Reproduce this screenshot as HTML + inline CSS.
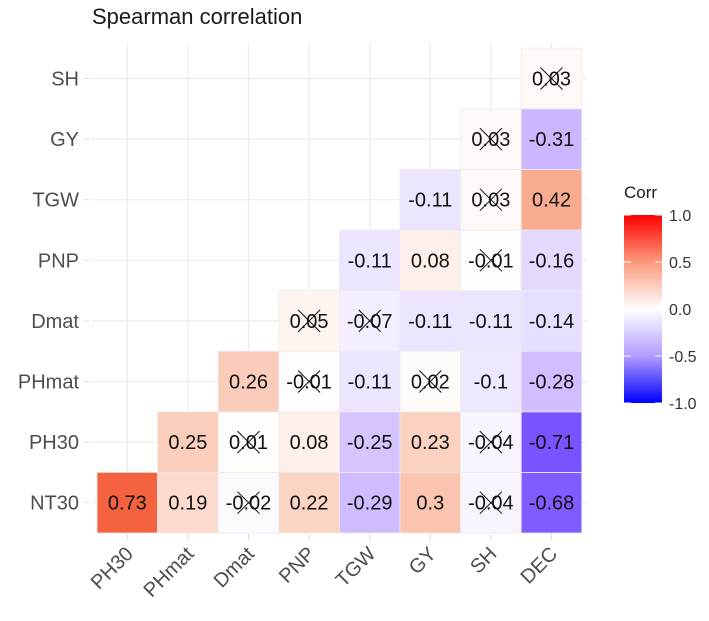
<!DOCTYPE html>
<html><head><meta charset="utf-8"><style>
body{margin:0;background:#fff;}
svg{display:block;font-family:"Liberation Sans",sans-serif;}
</style></head><body>
<svg id="chart" width="709" height="621" viewBox="0 0 709 621">
<text x="92" y="24" font-size="22" fill="#1a1a1a">Spearman correlation</text>
<g id="grid"></g><g id="cells"></g><g id="axes"></g>
<g>
<text x="624" y="198" font-size="17" fill="#1a1a1a">Corr</text>
<defs><linearGradient id="lg" x1="0" y1="0" x2="0" y2="1">
<stop offset="0" stop-color="#ff0000"/><stop offset="0.25" stop-color="#fb9a7c"/><stop offset="0.5" stop-color="#ffffff"/><stop offset="0.75" stop-color="#b49bff"/><stop offset="1" stop-color="#0000ff"/></linearGradient></defs>
<rect x="624" y="215" width="38" height="188" fill="url(#lg)"/>
<g id="leg"></g>
</g>
</svg>
<script>
const vars = ["NT30","PH30","PHmat","Dmat","PNP","TGW","GY","SH"];
const cols = ["PH30","PHmat","Dmat","PNP","TGW","GY","SH","DEC"];
const rowNT30 = [0.73,0.19,-0.02,0.22,-0.29,0.3,-0.04,-0.68];
const rowPH30 = [0.25,0.01,0.08,-0.25,0.23,-0.04,-0.71];
const rowPHmat = [0.26,-0.01,-0.11,0.02,-0.1,-0.28];
const rowDmat = [0.05,-0.07,-0.11,-0.11,-0.14];
const rowPNP = [-0.11,0.08,-0.01,-0.16];
const rowTGW = [-0.11,0.03,0.42];
const rowGY = [0.03,-0.31];
const rowSH = [0.03];
const insig = [[2,6],[1,5],[1,3],[0,1],[2],[1],[0],[0]];
const legendTicks = [1.0,0.5,0.0,-0.5,-1.0];
const rows=[rowNT30,rowPH30,rowPHmat,rowDmat,rowPNP,rowTGW,rowGY,rowSH];
const NS="http://www.w3.org/2000/svg";
const L=97,B=533,C=60.6;
const xc=i=>L+C*(i+0.5), yc=j=>B-C*(j+0.5);
function mk(t,a,p){const e=document.createElementNS(NS,t);for(const k in a)e.setAttribute(k,a[k]);(p||document.getElementById('chart')).appendChild(e);return e;}
function col(v){const t=Math.abs(v);let r,g,b;
 if(v>=0){r=255-15*t;g=255*Math.pow(1-t,0.73);b=255*Math.pow(1-t,1.05);}else{r=255*Math.pow(1-t,0.6);g=255*Math.pow(1-t,0.9);b=255;}
 return `rgb(${r|0},${g|0},${b|0})`;}
const grid=document.getElementById('grid'),cells=document.getElementById('cells'),axes=document.getElementById('axes');
for(let i=0;i<8;i++){
 const gv=mk('line',{x1:xc(i),x2:xc(i),y1:43,y2:538,stroke:'#ebebeb','stroke-width':1.2},grid);
 
 const gh=mk('line',{x1:92,x2:587,y1:yc(i),y2:yc(i),stroke:'#ebebeb','stroke-width':1.2},grid);
 
 const yl=mk('text',{x:79,y:yc(i)+7,'text-anchor':'end','font-size':20,fill:'#4d4d4d'},axes);yl.textContent=vars[i];
 
 mk('line',{x1:84,x2:89,y1:yc(i),y2:yc(i),stroke:'#ddd'},axes);
 mk('line',{x1:xc(i),x2:xc(i),y1:535,y2:540,stroke:'#ddd'},axes);
 const xl=mk('text',{x:0,y:0,'text-anchor':'end','font-size':20,fill:'#4d4d4d',transform:`translate(${xc(i)+7},${555}) rotate(-45)`},axes);xl.textContent=cols[i];
 
}
rows.forEach((row,j)=>{row.forEach((v,k)=>{const i=k+j;
 const r=mk('rect',{x:xc(i)-C/2,y:yc(j)-C/2,width:C,height:C,fill:col(v),stroke:'#ececec','stroke-width':0.8},cells);
 
 const t=mk('text',{x:xc(i),y:yc(j)+7,'text-anchor':'middle','font-size':20,fill:'#111'},cells);t.textContent=String(v);
 
 if(insig[j].includes(k)){const s=11;
  mk('line',{x1:xc(i)-s,y1:yc(j)-s,x2:xc(i)+s,y2:yc(j)+s,stroke:'#111','stroke-width':1},cells);
  mk('line',{x1:xc(i)-s,y1:yc(j)+s,x2:xc(i)+s,y2:yc(j)-s,stroke:'#111','stroke-width':1},cells);}
});});
const leg=document.getElementById('leg');
legendTicks.forEach(v=>{const y=309-v*94;
 const t=mk('text',{x:669,y:y+6,'font-size':16,fill:'#333'},leg);t.textContent=v.toFixed(1);
 
 mk('line',{x1:624,x2:631,y1:y,y2:y,stroke:'#fff'},leg);mk('line',{x1:655,x2:662,y1:y,y2:y,stroke:'#fff'},leg);});
</script>
</body></html>
